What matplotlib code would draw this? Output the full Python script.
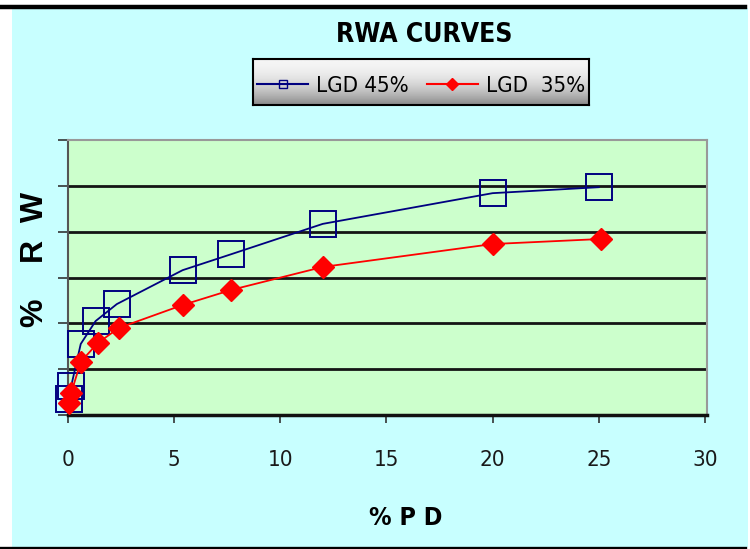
import numpy as np
import matplotlib
matplotlib.use("Agg")
import matplotlib.pyplot as plt
from matplotlib.lines import Line2D
from matplotlib.patches import Rectangle

# Veri
pd_pct = [0.03, 0.15, 0.6, 1.3, 2.3, 5.4, 7.7, 12, 20, 25]
rw_lgd45 = [3.5, 6.3, 15.5, 20.5, 24.2, 31.6, 35.1, 41.7, 48.4, 49.7]
pd_pct_35 = [0.03, 0.15, 0.6, 1.4, 2.4, 5.4, 7.7, 12, 20, 25.1]
rw_lgd35 = [2.6, 4.8, 11.6, 15.7, 19.0, 24.0, 27.3, 32.3, 37.3, 38.4]
x_ticks = [0, 5, 10, 15, 20, 25, 30]
y_ticks = [0, 10, 20, 30, 40, 50, 60]
series_names = ["LGD 45%", "LGD  35%"]

W, H = 750, 549
NARROW = dict(family="DejaVu Sans", stretch="condensed")

fig = plt.figure(figsize=(W / 100, H / 100), dpi=100, facecolor="white")

# arka plan: camgöbeği alan ve üst/alt siyah çizgiler
fig.patches.append(Rectangle((12 / W, 2 / H), 736 / W, 539 / H, transform=fig.transFigure,
                             facecolor="#c8ffff", edgecolor="none", zorder=-5))
fig.lines.append(Line2D([0, 745 / W], [1 - 6.5 / H, 1 - 6.5 / H], transform=fig.transFigure,
                        color="black", linewidth=3.2, zorder=-4))
fig.lines.append(Line2D([0, 745 / W], [1.2 / H, 1.2 / H], transform=fig.transFigure,
                        color="black", linewidth=2.4, zorder=-4))

ax = fig.add_axes([68 / W, 1 - 415 / H, 639 / W, 275 / H])
ax.set_facecolor("#ccffcc")

ax.plot(pd_pct, rw_lgd45, color="#000080", linewidth=1.3, marker="s", markersize=19,
        markerfacecolor="none", markeredgecolor="#000080", markeredgewidth=1.4,
        clip_on=False, zorder=3)
ax.plot(pd_pct_35, rw_lgd35, color="#ff0000", linewidth=1.3, marker="D", markersize=11,
        markerfacecolor="#ff0000", markeredgecolor="#ff0000", clip_on=False, zorder=4)

ax.set_xlim(0, 30.1)
ax.set_ylim(0, 60)
ax.set_xticks(x_ticks)
ax.set_yticks(y_ticks)
ax.set_yticklabels([])
ax.set_xticklabels([str(t) for t in x_ticks], fontsize=16, color="#1a1a1a", **NARROW)
ax.tick_params(axis="x", direction="out", length=6, width=1.2, color="#333333", pad=19)
ax.tick_params(axis="y", direction="out", length=7, width=1.2, color="#333333")

for y in y_ticks[1:-1]:
    ax.axhline(y, color="#151515", linewidth=2.0, zorder=1)

for side in ["top", "right"]:
    ax.spines[side].set_color("#999999")
    ax.spines[side].set_linewidth(1.5)
ax.spines["left"].set_color("#555555")
ax.spines["left"].set_linewidth(1.5)
ax.spines["bottom"].set_color("#111111")
ax.spines["bottom"].set_linewidth(2.5)

# başlık ve eksen yazıları
fig.text(424 / W, 1 - 35 / H, "RWA CURVES", ha="center", va="center",
         fontweight="bold", fontsize=19, **NARROW)
fig.text(406 / W, 1 - 518 / H, "% P D", ha="center", va="center",
         fontweight="bold", fontsize=18, **NARROW)
fig.text(35 / W, 1 - 259 / H, "%    R  W", ha="center", va="center", rotation=90,
         family="Liberation Sans", fontweight="bold", fontsize=23)

# lejant kutusu (gri degrade)
lax = fig.add_axes([253 / W, 1 - 105 / H, 336 / W, 46 / H], zorder=5)
t = np.linspace(0, 1, 100)
grad = (0.96 - 0.42 * t ** 2)[:, None]
lax.imshow(grad, cmap="gray", vmin=0, vmax=1, aspect="auto", extent=[0, 1, 1, 0])
lax.set_xticks([])
lax.set_yticks([])
for s in lax.spines.values():
    s.set_color("black")
    s.set_linewidth(1.5)

handles = [
    Line2D([], [], color="#000080", linewidth=1.5, marker="s", markersize=6,
           markerfacecolor="none", markeredgecolor="#000080"),
    Line2D([], [], color="#ff0000", linewidth=1.5, marker="D", markersize=6,
           markerfacecolor="#ff0000", markeredgecolor="#ff0000"),
]
leg = fig.legend(handles, series_names, loc="center", bbox_to_anchor=(421 / W, 1 - 86 / H),
                 ncol=2, frameon=False, handlelength=2.3, handletextpad=0.35,
                 columnspacing=0.8, prop=dict(size=16, **NARROW))
leg.set_zorder(6)

fig.savefig("out.png", dpi=100)
